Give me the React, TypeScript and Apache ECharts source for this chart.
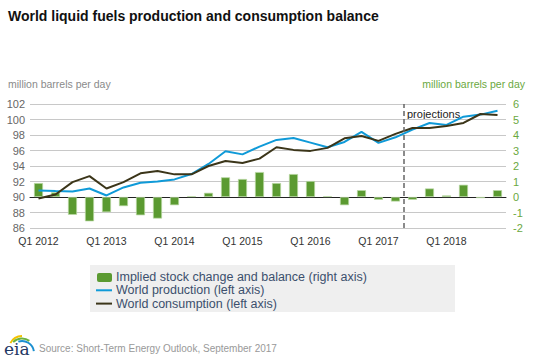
import React, { useEffect, useRef } from "react";
import * as echarts from "echarts";

const quarters: string[] = [];
for (const y of [2012, 2013, 2014, 2015, 2016, 2017, 2018]) {
  for (const q of [1, 2, 3, 4]) quarters.push(`Q${q} ${y}`);
}

const stockChange = [
  0.9, 0.3, -1.15, -1.57, -0.98, -0.59, -1.18, -1.39,
  -0.53, 0.05, 0.27, 1.27, 1.16, 1.61, 0.9, 1.48,
  1.03, 0.05, -0.53, 0.44, -0.18, -0.29, -0.18, 0.55,
  0.1, 0.79, -0.07, 0.44,
];
const production = [
  90.85, 90.76, 90.72, 91.1, 90.2, 91.23, 91.84, 92.0,
  92.27, 92.96, 94.26, 95.9, 95.5, 96.5, 97.37, 97.62,
  97.02, 96.42, 97.1, 98.4, 96.98, 97.7, 98.7, 99.55,
  99.3, 100.37, 100.63, 101.14,
];
const consumption = [
  89.8, 90.32, 91.92, 92.7, 91.1, 91.92, 93.05, 93.35,
  92.92, 92.92, 94.0, 94.65, 94.39, 94.95, 96.42, 96.08,
  95.95, 96.34, 97.58, 97.88, 97.24, 98.14, 98.91, 98.91,
  99.17, 99.55, 100.71, 100.58,
];
const projectionStart = 21.5;

const GREEN = "#5b9a31";
const BLUE = "#0f9ad8";
const DARK = "#3b3519";
const FONT = "Liberation Sans, Arial, sans-serif";
const LEG = "#3c4f6d";

export default function App() {
  const ref = useRef<HTMLDivElement>(null);
  useEffect(() => {
    if (!ref.current) return;
    const chart = echarts.init(ref.current, null, { renderer: "svg" });
    const legendText = (text: string, y: number) => ({
      type: "text",
      x: 116,
      y,
      style: { text, font: `12.5px ${FONT}`, lineHeight: 12, fill: LEG, verticalAlign: "middle" },
    });
    chart.setOption({
      animation: false,
      textStyle: { fontFamily: FONT },
      grid: { left: 30, right: 32, top: 104, bottom: 131 },
      xAxis: [
        {
          type: "category",
          data: quarters,
          boundaryGap: true,
          axisLine: { lineStyle: { color: "#222", width: 1 } },
          axisTick: { alignWithLabel: true, interval: 3, length: 5, lineStyle: { color: "#222" } },
          axisLabel: { interval: 3, color: "#333", fontSize: 10.5, margin: 7, fontFamily: FONT },
          splitLine: { show: false },
        },
        { type: "value", min: -0.5, max: 27.5, show: false },
      ],
      yAxis: [
        {
          type: "value",
          min: 86,
          max: 102,
          interval: 2,
          axisLine: { show: false },
          axisTick: { show: false },
          axisLabel: { color: "#666", fontSize: 11, margin: 5, fontFamily: FONT },
          splitLine: { lineStyle: { color: "#c8c8c8", width: 1 } },
        },
        {
          type: "value",
          min: -2,
          max: 6,
          interval: 1,
          axisLine: { show: false },
          axisTick: { show: false },
          axisLabel: { color: "#6aa83e", fontSize: 11, margin: 7, fontFamily: FONT },
          splitLine: { show: false },
        },
      ],
      series: [
        {
          name: "Implied stock change and balance (right axis)",
          type: "bar",
          yAxisIndex: 1,
          data: stockChange,
          barWidth: 9,
          itemStyle: { color: GREEN, borderColor: "#b9d9a3", borderWidth: 0.7 },
        },
        {
          name: "World production (left axis)",
          type: "line",
          data: production,
          symbol: "none",
          lineStyle: { color: BLUE, width: 2 },
          z: 3,
        },
        {
          name: "World consumption (left axis)",
          type: "line",
          data: consumption,
          symbol: "none",
          lineStyle: { color: DARK, width: 2 },
          z: 4,
        },
        {
          name: "projections",
          type: "line",
          xAxisIndex: 1,
          yAxisIndex: 0,
          data: [],
          markLine: {
            silent: true,
            symbol: "none",
            label: { show: false },
            lineStyle: { color: "#666", type: [5, 3], width: 1.5 },
            data: [{ xAxis: projectionStart }],
          },
        },
      ],
      graphic: [
        {
          type: "text",
          left: 8,
          top: 9,
          style: {
            text: "World liquid fuels production and consumption balance",
            font: `bold 14px ${FONT}`,
            fill: "#111",
          },
        },
        {
          type: "text",
          left: 8,
          top: 78,
          style: { text: "million barrels per day", font: `10.5px ${FONT}`, fill: "#8a8a8a" },
        },
        {
          type: "text",
          right: 13,
          top: 78,
          style: { text: "million barrels per day", font: `10.5px ${FONT}`, fill: "#6aa83e" },
        },
        {
          type: "text",
          x: 407,
          y: 108,
          style: { text: "projections", font: `11px ${FONT}`, fill: "#222" },
        },
        {
          type: "rect",
          shape: { x: 90, y: 265, width: 365, height: 47 },
          style: { fill: "#efefef" },
        },
        {
          type: "rect",
          shape: { x: 97, y: 273, width: 15, height: 9, r: 2 },
          style: { fill: GREEN },
        },
        {
          type: "line",
          shape: { x1: 96, y1: 290.3, x2: 112, y2: 290.3 },
          style: { stroke: BLUE, lineWidth: 2 },
        },
        {
          type: "line",
          shape: { x1: 96, y1: 303.6, x2: 112, y2: 303.6 },
          style: { stroke: DARK, lineWidth: 2 },
        },
        legendText("Implied stock change and balance (right axis)", 277.3),
        legendText("World production (left axis)", 290.3),
        legendText("World consumption (left axis)", 303.6),
        {
          type: "arc",
          shape: { cx: 22, cy: 349, r: 13, startAngle: Math.PI * 1.15, endAngle: Math.PI * 1.5 },
          style: { stroke: "#f2c200", lineWidth: 2, fill: "none" },
        },
        {
          type: "arc",
          shape: { cx: 22, cy: 351, r: 12.5, startAngle: Math.PI * 1.25, endAngle: Math.PI * 1.7 },
          style: { stroke: "#6cb33f", lineWidth: 2, fill: "none" },
        },
        {
          type: "arc",
          shape: { cx: 22, cy: 353, r: 12, startAngle: Math.PI * 1.4, endAngle: Math.PI * 1.95 },
          style: { stroke: "#1b8fd0", lineWidth: 2, fill: "none" },
        },
        {
          type: "text",
          x: 4,
          y: 349,
          style: { text: "eia", font: `17px DejaVu Serif, serif`, fill: "#1f3864", verticalAlign: "middle" },
        },
        {
          type: "text",
          x: 39,
          y: 348,
          style: { text: "Source: Short-Term Energy Outlook, September 2017", font: `10px ${FONT}`, fill: "#999", verticalAlign: "middle" },
        },
      ],
    });
    return () => chart.dispose();
  }, []);
  return <div ref={ref} style={{ width: 538, height: 359, position: "absolute", left: 0, top: 0 }} />;
}
